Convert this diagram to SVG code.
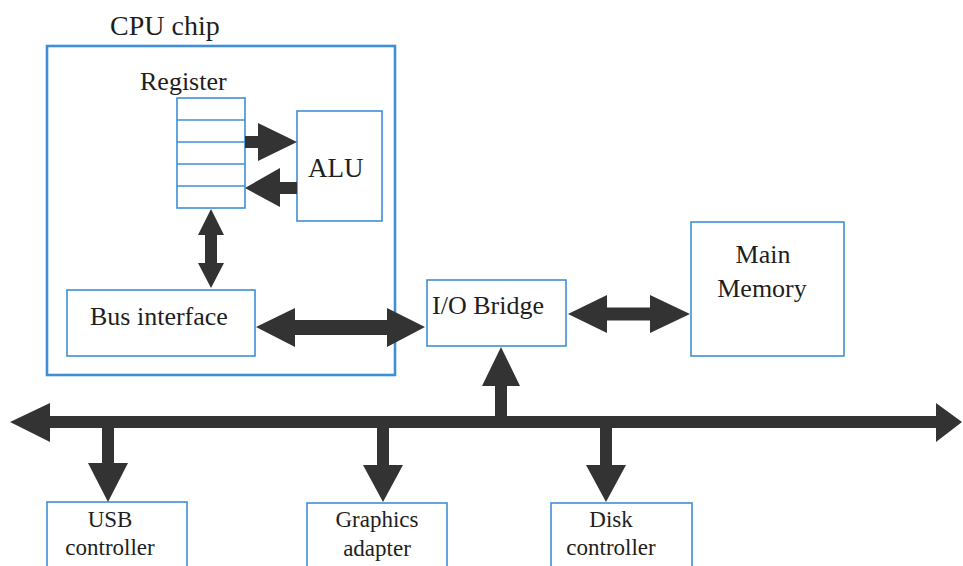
<svg xmlns="http://www.w3.org/2000/svg" width="963" height="566" viewBox="0 0 963 566">
<style>
.box{fill:#fff;stroke:#3f8fd6;stroke-width:1.6}
.chip{fill:none;stroke:#3f8fd6;stroke-width:2.6}
.arr{fill:#333;stroke:none}
text{fill:#1e1e1e}
.t{font-size:26px}
.s{font-size:23px;text-anchor:middle}
.c{text-anchor:middle}
</style>
<rect width="963" height="566" fill="#fff"/>
<g font-family="'Liberation Serif', 'DejaVu Serif', 'Times New Roman', serif">
<g id="cpu-chip">
<rect class="chip" x="47" y="46" width="348" height="329"/>
<text x="110" y="35" font-size="28">CPU chip</text>
</g>
<g id="register">
<text class="t" x="140" y="90">Register</text>
<rect class="box" x="177" y="98" width="68" height="110"/>
<line class="box" x1="177" y1="120" x2="245" y2="120"/>
<line class="box" x1="177" y1="142" x2="245" y2="142"/>
<line class="box" x1="177" y1="164" x2="245" y2="164"/>
<line class="box" x1="177" y1="186" x2="245" y2="186"/>
</g>
<g id="alu">
<rect class="box" x="297" y="111" width="85" height="110"/>
<text x="308" y="177" font-size="27">ALU</text>
</g>
<g id="bus-interface">
<rect class="box" x="67" y="290" width="188" height="66"/>
<text class="t" x="90" y="325">Bus interface</text>
</g>
<g id="io-bridge">
<rect class="box" x="427" y="280" width="139" height="66"/>
<text class="t" x="432" y="314">I/O Bridge</text>
</g>
<g id="main-memory">
<rect class="box" x="691" y="222" width="153" height="134"/>
<text class="t c" x="763" y="263">Main</text>
<text class="t c" x="762" y="297">Memory</text>
</g>
<g id="usb-controller">
<rect class="box" x="47" y="502" width="140" height="90"/>
<text class="s" x="110" y="527">USB</text>
<text class="s" x="110" y="555">controller</text>
</g>
<g id="graphics-adapter">
<rect class="box" x="307" y="503" width="140" height="90"/>
<text class="s" x="377" y="527">Graphics</text>
<text class="s" x="377" y="556">adapter</text>
</g>
<g id="disk-controller">
<rect class="box" x="551" y="503" width="141" height="90"/>
<text class="s" x="611" y="527">Disk</text>
<text class="s" x="611" y="555">controller</text>
</g>
</g>
<g id="connectors">
<polygon class="arr" points="245,136 258,136 258,123 297,142 258,161 258,148 245,148"/>
<polygon class="arr" points="297,182 280,182 280,168 245,188 280,207 280,194 297,194"/>
<polygon class="arr" points="211,209 224,235 217,235 217,263 224,263 211,288 198,263 205,263 205,235 198,235"/>
<polygon class="arr" points="256,327 295,308 295,320 387,320 387,308 425,327 387,347 387,335 295,335 295,347"/>
<polygon class="arr" points="568,314 607,295 607,307.5 650,307.5 650,295 690,314 650,333 650,320.5 607,320.5 607,333"/>
<polygon class="arr" points="10,422 50,403 50,416 936,416 936,403 962,422 936,442 936,428 50,428 50,442"/>
<polygon class="arr" points="501,347 520,386 507,386 507,422 495,422 495,386 482,386"/>
<polygon class="arr" points="102,422 114,422 114,463 128,463 108,502 88,463 102,463"/>
<polygon class="arr" points="377,422 389,422 389,465 403,465 383,502 363,465 377,465"/>
<polygon class="arr" points="600,422 612,422 612,465 626,465 606,502 586,465 600,465"/>
</g>
</svg>
